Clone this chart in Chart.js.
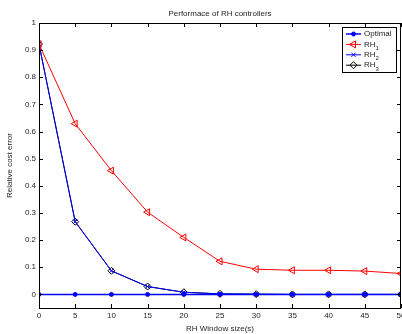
<!DOCTYPE html>
<html>
<head>
<meta charset="utf-8">
<script src="https://cdn.jsdelivr.net/npm/chart.js@4/dist/chart.umd.min.js"></script>
<style>
  html, body { margin: 0; padding: 0; background: #fff; }
  #wrap { width: 402px; height: 334px; }
</style>
</head>
<body>
<div id="wrap"><canvas id="chart" width="402" height="334"></canvas></div>
<script>
// x: RH window size, y: relative cost error
const windowSizes = [0, 5, 10, 15, 20, 25, 30, 35, 40, 45, 50];
const optimal = [0, 0, 0, 0, 0, 0, 0, 0, 0, 0, 0];
const rh1 = [0.922, 0.629, 0.456, 0.303, 0.21, 0.122, 0.093, 0.089, 0.089, 0.086, 0.077];
const rh2 = [0.922, 0.268, 0.087, 0.029, 0.008, 0.002, 0.001, 0, 0, 0, 0];
const rh3 = [0.922, 0.268, 0.087, 0.029, 0.008, 0.002, 0.001, 0, 0, 0, 0];
const xTicks = [0, 5, 10, 15, 20, 25, 30, 35, 40, 45, 50];
const yTicks = [0, 0.1, 0.2, 0.3, 0.4, 0.5, 0.6, 0.7, 0.8, 0.9, 1];

const FONT = '"Liberation Sans", Arial, sans-serif';
const TEXT = '#262626';

// legend entries: [label, subscript]
const legendNames = [['Optimal', ''], ['RH', '1'], ['RH', '2'], ['RH', '3']];

function series(label, data, color, style, radius, rotation, fill, width) {
  return {
    label: label,
    data: data,
    borderColor: color,
    backgroundColor: fill ? color : 'rgba(0,0,0,0)',
    pointBorderColor: color,
    pointBackgroundColor: fill ? color : 'rgba(0,0,0,0)',
    pointStyle: style,
    pointRadius: radius,
    pointRotation: rotation,
    pointBorderWidth: 1,
    borderWidth: width,
    tension: 0
  };
}

// keep the plot box at fixed size, labels may run off the edge like the original
function fixBox(size, key) {
  return s => {
    s[key] = size;
    s.paddingLeft = s.paddingRight = s.paddingTop = s.paddingBottom = 0;
  };
}

// matlab-like frame with inward ticks, plus the boxed legend
const framePlugin = {
  id: 'frame',
  afterDraw(chart) {
    const ctx = chart.ctx;
    const a = chart.chartArea;
    const xs = chart.scales.x, ys = chart.scales.y;
    ctx.save();
    ctx.strokeStyle = '#000';
    ctx.lineWidth = 1;
    ctx.strokeRect(Math.round(a.left) + 0.5, Math.round(a.top) + 0.5,
      Math.round(a.right - a.left) - 1, Math.round(a.bottom - a.top));
    ctx.beginPath();
    const tl = 4;
    xTicks.forEach(v => {
      const px = Math.round(xs.getPixelForValue(v)) + 0.5;
      ctx.moveTo(px, a.bottom); ctx.lineTo(px, a.bottom - tl);
      ctx.moveTo(px, a.top); ctx.lineTo(px, a.top + tl);
    });
    yTicks.forEach(v => {
      const py = Math.round(ys.getPixelForValue(v)) + 0.5;
      ctx.moveTo(a.left, py); ctx.lineTo(a.left + tl, py);
      ctx.moveTo(a.right, py); ctx.lineTo(a.right - tl, py);
    });
    ctx.stroke();

    // legend
    const lx = 342, ly = 27, lw = 54, lh = 45;
    ctx.fillStyle = '#fff';
    ctx.fillRect(lx, ly, lw, lh);
    ctx.strokeRect(lx + 0.5, ly + 0.5, lw, lh);
    chart.data.datasets.forEach((ds, i) => {
      const y = 34 + i * 10.4;
      ctx.strokeStyle = ds.borderColor;
      ctx.lineWidth = ds.borderWidth;
      ctx.beginPath();
      ctx.moveTo(346, y); ctx.lineTo(361, y);
      ctx.stroke();
      ctx.lineWidth = 1;
      ctx.fillStyle = ds.pointBackgroundColor;
      Chart.helpers.drawPoint(ctx, {
        pointStyle: ds.pointStyle, radius: ds.pointRadius,
        rotation: ds.pointRotation, borderWidth: 1
      }, 353.5, y);
      const name = legendNames[i];
      ctx.fillStyle = TEXT;
      ctx.font = '8px ' + FONT;
      ctx.textBaseline = 'middle';
      ctx.textAlign = 'left';
      ctx.fillText(name[0], 364, y);
      if (name[1]) {
        const w = ctx.measureText(name[0]).width;
        ctx.font = '6px ' + FONT;
        ctx.fillText(name[1], 364 + w, y + 4);
      }
    });
    ctx.restore();
  }
};

new Chart(document.getElementById('chart'), {
  type: 'line',
  data: {
    labels: windowSizes,
    datasets: [
      series('Optimal', optimal, '#0000ff', 'circle', 2, 0, true, 1.5),
      series('RH1', rh1, '#ff0000', 'triangle', 4, -90, false, 1),
      series('RH2', rh2, '#0000ff', 'crossRot', 3, 0, false, 1),
      series('RH3', rh3, '#000000', 'rectRot', 3.5, 0, false, 1)
    ]
  },
  options: {
    responsive: false,
    animation: false,
    layout: { autoPadding: false, padding: { left: 0, right: 1, top: 0, bottom: 0 } },
    plugins: {
      legend: { display: false },
      tooltip: { enabled: false },
      title: {
        display: true,
        text: 'Performace of RH controllers',
        fullSize: false,
        color: TEXT,
        font: { family: FONT, size: 8, weight: 'normal' },
        padding: { top: 8.5, bottom: 4.9 }
      }
    },
    scales: {
      x: {
        type: 'linear',
        min: 0,
        max: 50,
        grid: { display: false, drawTicks: false },
        border: { display: false },
        afterBuildTicks: s => { s.ticks = xTicks.map(v => ({ value: v })); },
        afterFit: fixBox(26, 'height'),
        ticks: {
          color: TEXT, padding: 3, maxRotation: 0, autoSkip: false,
          font: { family: FONT, size: 8 }
        },
        title: {
          display: true, text: 'RH Window size(s)', color: TEXT,
          font: { family: FONT, size: 8 }, padding: { top: 0, bottom: 0 }
        }
      },
      y: {
        min: -0.05,
        max: 1,
        grid: { display: false, drawTicks: false },
        border: { display: false },
        afterBuildTicks: s => { s.ticks = yTicks.map(v => ({ value: v })); },
        afterFit: fixBox(39, 'width'),
        ticks: {
          color: TEXT, padding: 3, autoSkip: false,
          font: { family: FONT, size: 8 },
          callback: v => String(Math.round(v * 10) / 10)
        },
        title: {
          display: true, text: 'Relative cost error', color: TEXT,
          font: { family: FONT, size: 8 }, padding: { top: 5, bottom: 0 }
        }
      }
    }
  },
  plugins: [framePlugin]
});
</script>
</body>
</html>
